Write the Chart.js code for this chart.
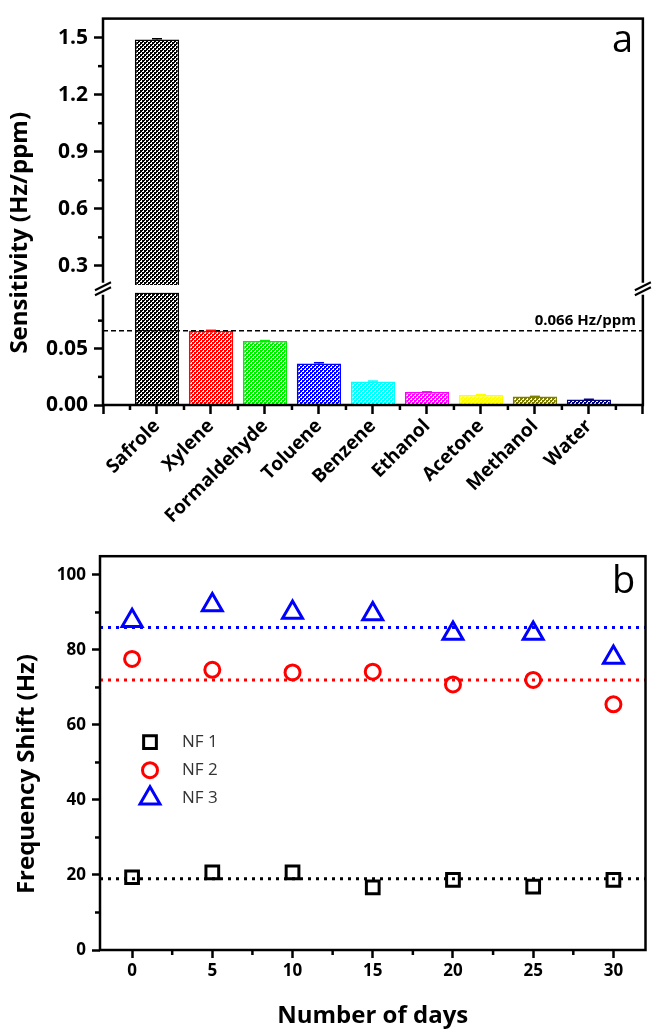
<!DOCTYPE html>
<html><head><meta charset="utf-8">
<script src="https://cdn.jsdelivr.net/npm/chart.js@4.4.1/dist/chart.umd.min.js"></script>
<style>
html,body{margin:0;padding:0;background:#fff;}
body{width:660px;height:1032px;position:relative;overflow:hidden;}
canvas{position:absolute;left:0;}
#ca{top:0;}
#cb{top:540px;}
</style></head><body>
<canvas id="ca" width="660" height="540"></canvas>
<canvas id="cb" width="660" height="492"></canvas>
<script>
// ================= DATA =================
// panel a
const solvents = ['Safrole','Xylene','Formaldehyde','Toluene','Benzene','Ethanol','Acetone','Methanol','Water'];
const sensitivity = [1.49, 0.066, 0.057, 0.037, 0.021, 0.0115, 0.009, 0.0075, 0.005];
const sensitivityErr = [0.004, 0.0004, 0.0003, 0.0006, 0.0003, 0.0002, 0.0002, 0.0002, 0.0001];
const thresholdValue = 0.066;
const thresholdLabel = '0.066 Hz/ppm';
const lowerRange = [0, 0.1];
const upperRange = [0.16, 1.6];
const breakTop = 0.2;
const upperTicks = [0.3, 0.6, 0.9, 1.2, 1.5];
const upperMinor = [0.45, 0.75, 1.05, 1.35];
const lowerTicks = [0, 0.05];
const lowerMinor = [0.025, 0.075];
// panel b
const days = [0, 5, 10, 15, 20, 25, 30];
const nf1 = [19.4, 20.7, 20.7, 16.7, 18.7, 16.9, 18.7];
const nf2 = [77.6, 74.7, 74.0, 74.2, 70.8, 72.0, 65.5];
const nf3 = [87.8, 92.0, 90.0, 89.6, 84.4, 84.4, 78.0];
const nfMeans = [19, 72, 86];
const seriesNames = ['NF 1', 'NF 2', 'NF 3'];
const dayTicks = [0, 5, 10, 15, 20, 25, 30];
const dayMinor = [2.5, 7.5, 12.5, 17.5, 22.5, 27.5];
const shiftTicks = [0, 20, 40, 60, 80, 100];
const shiftMinor = [10, 30, 50, 70, 90];
const dayRange = [-2, 32];
const shiftRange = [0, 105];

// ================= STYLE =================
const FONT = "'Open Sans', 'DejaVu Sans', sans-serif";
const barColors = ['#000000','#FF0000','#00EE00','#0000FF','#00FFFF','#FF00FF','#FFFF00','#808000','#000080'];
const seriesColors = ['#000000', '#FF0000', '#0000FF'];
const seriesStyles = ['rect', 'circle', 'triangle'];
const seriesRadius = [9, 7.5, 11.5];

function hatch(color) {
  const c = document.createElement('canvas'); c.width = 4; c.height = 4;
  const g = c.getContext('2d');
  g.fillStyle = color; g.fillRect(0, 0, 4, 4);
  g.fillStyle = '#ffffff'; g.fillRect(0, 0, 2, 2); g.fillRect(2, 2, 2, 2);
  g.fillStyle = color; g.fillRect(0, 0, 1, 1); g.fillRect(2, 2, 1, 1);
  return g.createPattern(c, 'repeat');
}
function line(ctx, x1, y1, x2, y2) { ctx.beginPath(); ctx.moveTo(x1, y1); ctx.lineTo(x2, y2); ctx.stroke(); }

const pad = a => [null, ...a, null];
const catLabels = ['', ...solvents, ''];
const lowerData = pad(sensitivity.map(v => Math.min(v, lowerRange[1])));
const upperData = pad(sensitivity.map(v => v > breakTop ? [breakTop, v] : null));
const patterns = pad(barColors.map(hatch));
const borders = pad(barColors);

const tickFontA = {family: FONT, size: 21, weight: 'bold'};
const gridA = {display: true, drawOnChartArea: false, drawTicks: true, tickLength: 9, tickWidth: 2.5, tickColor: '#000'};

const panelAPlugin = {
  id: 'panelA',
  afterDraw(chart) {
    const ctx = chart.ctx, ca = chart.chartArea;
    const xs = chart.scales.x, yH = chart.scales.yHigh, yL = chart.scales.yLow;
    ctx.save();
    // error bars
    ctx.lineWidth = 1.5;
    sensitivity.forEach((v, i) => {
      const sc = v > breakTop ? yH : yL;
      const x = xs.getPixelForValue(i + 1);
      const y1 = sc.getPixelForValue(v + sensitivityErr[i]);
      const y0 = sc.getPixelForValue(v);
      ctx.strokeStyle = barColors[i];
      line(ctx, x, y0, x, y1);
      line(ctx, x - 5, y1, x + 5, y1);
    });
    // frame
    ctx.strokeStyle = '#000'; ctx.lineWidth = 2.5;
    ctx.strokeRect(ca.left, ca.top, ca.right - ca.left, ca.bottom - ca.top);
    // minor ticks
    upperMinor.forEach(v => { const y = yH.getPixelForValue(v); line(ctx, ca.left, y, ca.left - 5, y); });
    lowerMinor.forEach(v => { const y = yL.getPixelForValue(v); line(ctx, ca.left, y, ca.left - 5, y); });
    for (let i = 0; i < catLabels.length - 1; i++) {
      const x = xs.getPixelForValue(i + 0.5);
      line(ctx, x, ca.bottom, x, ca.bottom + 5);
    }
    // axis break
    const yb = (yH.getPixelForValue(breakTop) + yL.getPixelForValue(lowerRange[1])) / 2;
    [ca.left, ca.right].forEach(x => {
      ctx.fillStyle = '#fff';
      ctx.fillRect(x - 3, yb - 6, 6, 12);
      ctx.strokeStyle = '#000'; ctx.lineWidth = 2;
      line(ctx, x - 8, yb + 1.5, x + 8, yb - 6.5);
      line(ctx, x - 8, yb + 6.5, x + 8, yb - 1.5);
    });
    // threshold label
    const yt = yL.getPixelForValue(thresholdValue);
    ctx.fillStyle = '#000';
    ctx.font = `bold 15px ${FONT}`;
    ctx.textAlign = 'right'; ctx.textBaseline = 'alphabetic';
    ctx.fillText(thresholdLabel, ca.right - 7, yt - 6);
    // panel letter
    ctx.font = `38px ${FONT}`;
    ctx.textAlign = 'left';
    ctx.fillText('a', ca.left + 509, ca.top + 33);
    // y title
    ctx.translate(20, (ca.top + ca.bottom) / 2 + 21);
    ctx.rotate(-Math.PI / 2);
    ctx.font = `bold 24px ${FONT}`;
    ctx.textAlign = 'center'; ctx.textBaseline = 'middle';
    ctx.fillText('Sensitivity (Hz/ppm)', 0, 0);
    ctx.restore();
  }
};

new Chart(document.getElementById('ca'), {
  type: 'bar',
  data: {
    labels: catLabels,
    datasets: [
      {type: 'line', data: catLabels.map(() => thresholdValue), yAxisID: 'yLow', borderColor: '#000',
       borderWidth: 1.5, borderDash: [5, 3], pointRadius: 0, fill: false, order: 0},
      {data: lowerData, yAxisID: 'yLow', backgroundColor: patterns, borderColor: borders, borderWidth: 1.5,
       grouped: false, barPercentage: 0.82, categoryPercentage: 1, order: 1},
      {data: upperData, yAxisID: 'yHigh', backgroundColor: patterns, borderColor: borders, borderWidth: 1.5,
       grouped: false, barPercentage: 0.82, categoryPercentage: 1, order: 1}
    ]
  },
  options: {
    responsive: false, animation: false, devicePixelRatio: 1,
    layout: {padding: {top: 3, right: 13, left: 0, bottom: 0}},
    plugins: {legend: {display: false}, tooltip: {enabled: false}},
    scales: {
      x: {
        type: 'category', offset: false,
        grid: Object.assign({offset: false}, gridA),
        border: {display: false},
        ticks: {autoSkip: false, maxRotation: 45, minRotation: 45, color: '#000', padding: 1,
                font: {family: FONT, size: 19, weight: 'bold'}},
        afterFit: s => { s.height = 135; }
      },
      yLow: {
        type: 'linear', position: 'left', stack: 'sens', stackWeight: 117,
        min: lowerRange[0], max: lowerRange[1],
        afterBuildTicks: s => { s.ticks = lowerTicks.map(v => ({value: v})); },
        grid: gridA, border: {display: false},
        ticks: {color: '#000', padding: 6, font: tickFontA, callback: v => Number(v).toFixed(2)},
        afterFit: s => { s.width = 103; }
      },
      yHigh: {
        type: 'linear', position: 'left', stack: 'sens', stackWeight: 285,
        min: upperRange[0], max: upperRange[1],
        afterBuildTicks: s => { s.ticks = upperTicks.map(v => ({value: v})); },
        grid: gridA, border: {display: false},
        ticks: {color: '#000', padding: 6, font: tickFontA, callback: v => Number(v).toFixed(1)},
        afterFit: s => { s.width = 103; }
      }
    }
  },
  plugins: [panelAPlugin]
});

// ================= PANEL B =================
function drawMarker(ctx, style, r, x, y) {
  ctx.beginPath();
  if (style === 'rect') {
    const s = Math.SQRT1_2 * r; ctx.rect(x - s, y - s, 2 * s, 2 * s);
  } else if (style === 'circle') {
    ctx.arc(x, y, r, 0, Math.PI * 2);
  } else {
    let a = 0;
    ctx.moveTo(x + Math.sin(a) * r, y - Math.cos(a) * r);
    a += 2 * Math.PI / 3; ctx.lineTo(x + Math.sin(a) * r, y - Math.cos(a) * r);
    a += 2 * Math.PI / 3; ctx.lineTo(x + Math.sin(a) * r, y - Math.cos(a) * r);
    ctx.closePath();
  }
  ctx.stroke();
}

const panelBPlugin = {
  id: 'panelB',
  afterDraw(chart) {
    const ctx = chart.ctx, ca = chart.chartArea;
    const xs = chart.scales.x, ys = chart.scales.y;
    ctx.save();
    ctx.strokeStyle = '#000'; ctx.lineWidth = 2.5;
    ctx.strokeRect(ca.left, ca.top, ca.right - ca.left, ca.bottom - ca.top);
    shiftMinor.forEach(v => { const y = ys.getPixelForValue(v); line(ctx, ca.left, y, ca.left - 5, y); });
    dayMinor.forEach(v => { const x = xs.getPixelForValue(v); line(ctx, x, ca.bottom, x, ca.bottom + 5); });
    // legend
    ctx.font = `17px ${FONT}`; ctx.textAlign = 'left'; ctx.textBaseline = 'middle';
    seriesNames.forEach((n, i) => {
      const y = ca.top + 186 + i * 28;
      ctx.strokeStyle = seriesColors[i]; ctx.lineWidth = 3;
      drawMarker(ctx, seriesStyles[i], seriesRadius[i], ca.left + 50, y);
      ctx.fillStyle = '#333';
      ctx.fillText(n, ca.left + 82, y);
    });
    // panel letter
    ctx.fillStyle = '#000';
    ctx.font = `38px ${FONT}`; ctx.textBaseline = 'alphabetic';
    ctx.fillText('b', ca.left + 512, ca.top + 37);
    // y title
    ctx.translate(27, (ca.top + ca.bottom) / 2 + 21);
    ctx.rotate(-Math.PI / 2);
    ctx.font = `bold 24px ${FONT}`;
    ctx.textAlign = 'center'; ctx.textBaseline = 'middle';
    ctx.fillText('Frequency Shift (Hz)', 0, 0);
    ctx.restore();
  }
};

const seriesData = [nf1, nf2, nf3];
const gridB = {display: true, drawOnChartArea: false, drawTicks: true, tickLength: 8, tickWidth: 2.5, tickColor: '#000'};
const tickFontB = {family: FONT, size: 17, weight: 'bold'};

new Chart(document.getElementById('cb'), {
  type: 'scatter',
  data: {
    datasets: [
      ...seriesData.map((arr, i) => ({
        label: seriesNames[i],
        data: days.map((d, j) => ({x: d, y: arr[j]})),
        pointStyle: seriesStyles[i], pointRadius: seriesRadius[i], pointBorderWidth: 3,
        borderColor: seriesColors[i], backgroundColor: 'rgba(0,0,0,0)', showLine: false, order: 0
      })),
      ...nfMeans.map((m, i) => ({
        type: 'line',
        data: [{x: dayRange[0], y: m}, {x: dayRange[1], y: m}],
        borderColor: seriesColors[i], borderWidth: 3, borderDash: [3, 5], pointRadius: 0,
        showLine: true, fill: false, order: 1
      }))
    ]
  },
  options: {
    responsive: false, animation: false, devicePixelRatio: 1,
    layout: {padding: {top: 15, right: 14, left: 0, bottom: 1}},
    plugins: {legend: {display: false}, tooltip: {enabled: false}},
    scales: {
      x: {
        type: 'linear', min: dayRange[0], max: dayRange[1],
        afterBuildTicks: s => { s.ticks = dayTicks.map(v => ({value: v})); },
        grid: gridB, border: {display: false},
        ticks: {color: '#000', padding: 3, font: tickFontB},
        title: {display: true, text: 'Number of days', color: '#000', padding: {top: 0, bottom: 0},
                font: {family: FONT, size: 24, weight: 'bold'}},
        afterFit: s => { s.height = 81; }
      },
      y: {
        type: 'linear', min: shiftRange[0], max: shiftRange[1],
        afterBuildTicks: s => { s.ticks = shiftTicks.map(v => ({value: v})); },
        grid: gridB, border: {display: false},
        ticks: {color: '#000', padding: 6, font: tickFontB},
        afterFit: s => { s.width = 100; }
      }
    }
  },
  plugins: [panelBPlugin]
});
</script>
</body></html>
